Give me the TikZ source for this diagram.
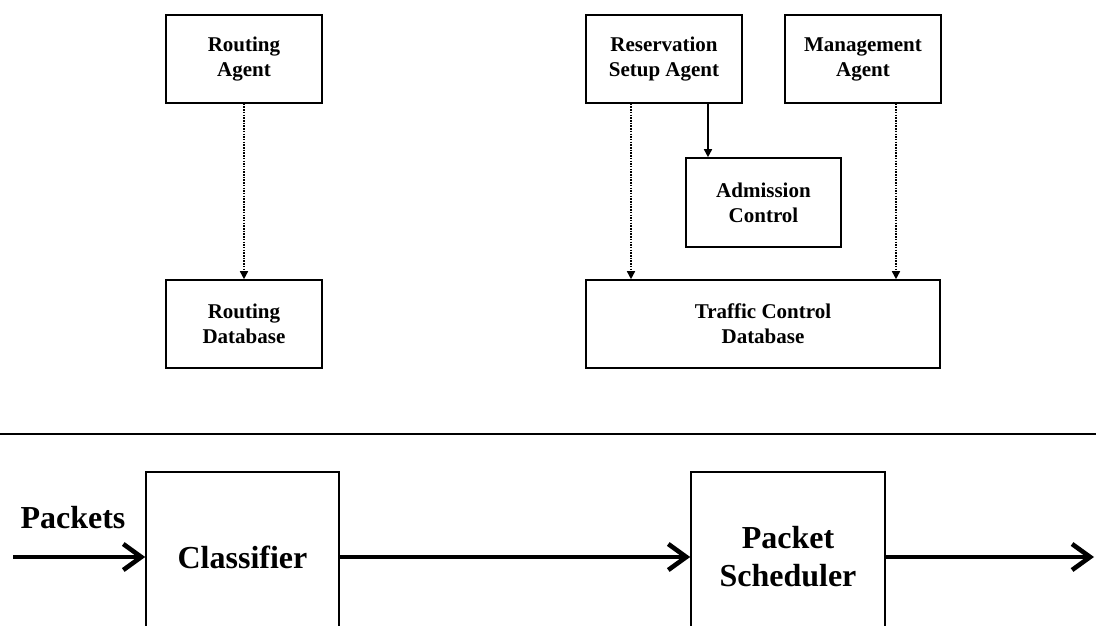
\documentclass[tikz,border=0pt]{standalone}
\usepackage{fontspec}
\setmainfont{Liberation Serif}
\usetikzlibrary{arrows.meta,positioning}

\begin{document}
\begin{tikzpicture}[x=1pt,y=-1pt,
  ctlbox/.style={draw,line width=1.6pt,align=center,inner sep=2pt,
    font=\fontsize{21}{25}\selectfont\bfseries},
  bigbox/.style={draw,line width=1.6pt,align=center,inner sep=2pt,
    minimum height=170pt,font=\fontsize{32}{38}\selectfont\bfseries},
  dotflow/.style={line width=1.5pt,dash pattern=on 1.5pt off 1.2pt,-{Triangle[length=8pt,width=8pt]}},
  ctlflow/.style={line width=1.6pt,-{Triangle[length=8pt,width=8pt]}},
  pktflow/.style={line width=4.6pt,-{Straight Barb[length=18pt,width=26pt]}}]
\clip (0,0) rectangle (1096,626);
% control plane
\node[ctlbox,minimum width=156pt,minimum height=88pt] (ra) at (244,59) {Routing\\Agent};
\node[ctlbox,minimum width=156pt,minimum height=88pt] (rdb) at (244,324) {Routing\\Database};
\node[ctlbox,minimum width=156pt,minimum height=88pt] (rsa) at (664,59) {Reservation\\Setup Agent};
\node[ctlbox,minimum width=156pt,minimum height=88pt] (ma) at (863,59) {Management\\Agent};
\node[ctlbox,minimum width=155pt,minimum height=89pt] (ac) at (763.5,202.5) {Admission\\Control};
\node[ctlbox,minimum width=354pt,minimum height=88pt] (tcd) at (763,324) {Traffic Control\\Database};
\draw[dotflow] (ra.south)--(rdb.north);
\draw[dotflow] ([xshift=-33pt]rsa.south)--([xshift=-33pt]rsa.south |- tcd.north);
\draw[ctlflow] ([xshift=44pt]rsa.south)--([xshift=44pt]rsa.south |- ac.north);
\draw[dotflow] ([xshift=33pt]ma.south)--([xshift=33pt]ma.south |- tcd.north);
% separator
\coordinate (sepl) at (0,434);
\coordinate (sepr) at (1096,434);
\draw[line width=1.5pt] (sepl)--(sepr);
% data plane
\node[bigbox,minimum width=193pt] (cls) at (242.5,557) {Classifier};
\node[bigbox,minimum width=194pt] (sch) at (788,557) {Packet\\Scheduler};
\coordinate (pin) at (13,557);
\coordinate (pout) at (1094,557);
\node[font=\fontsize{32}{38}\selectfont\bfseries,inner sep=0pt] (pk) at (73,518) {Packets};
\draw[pktflow] (pin)--(cls.west);
\draw[pktflow] (cls.east)--(sch.west);
\draw[pktflow] (sch.east)--(pout);
\end{tikzpicture}
\end{document}
